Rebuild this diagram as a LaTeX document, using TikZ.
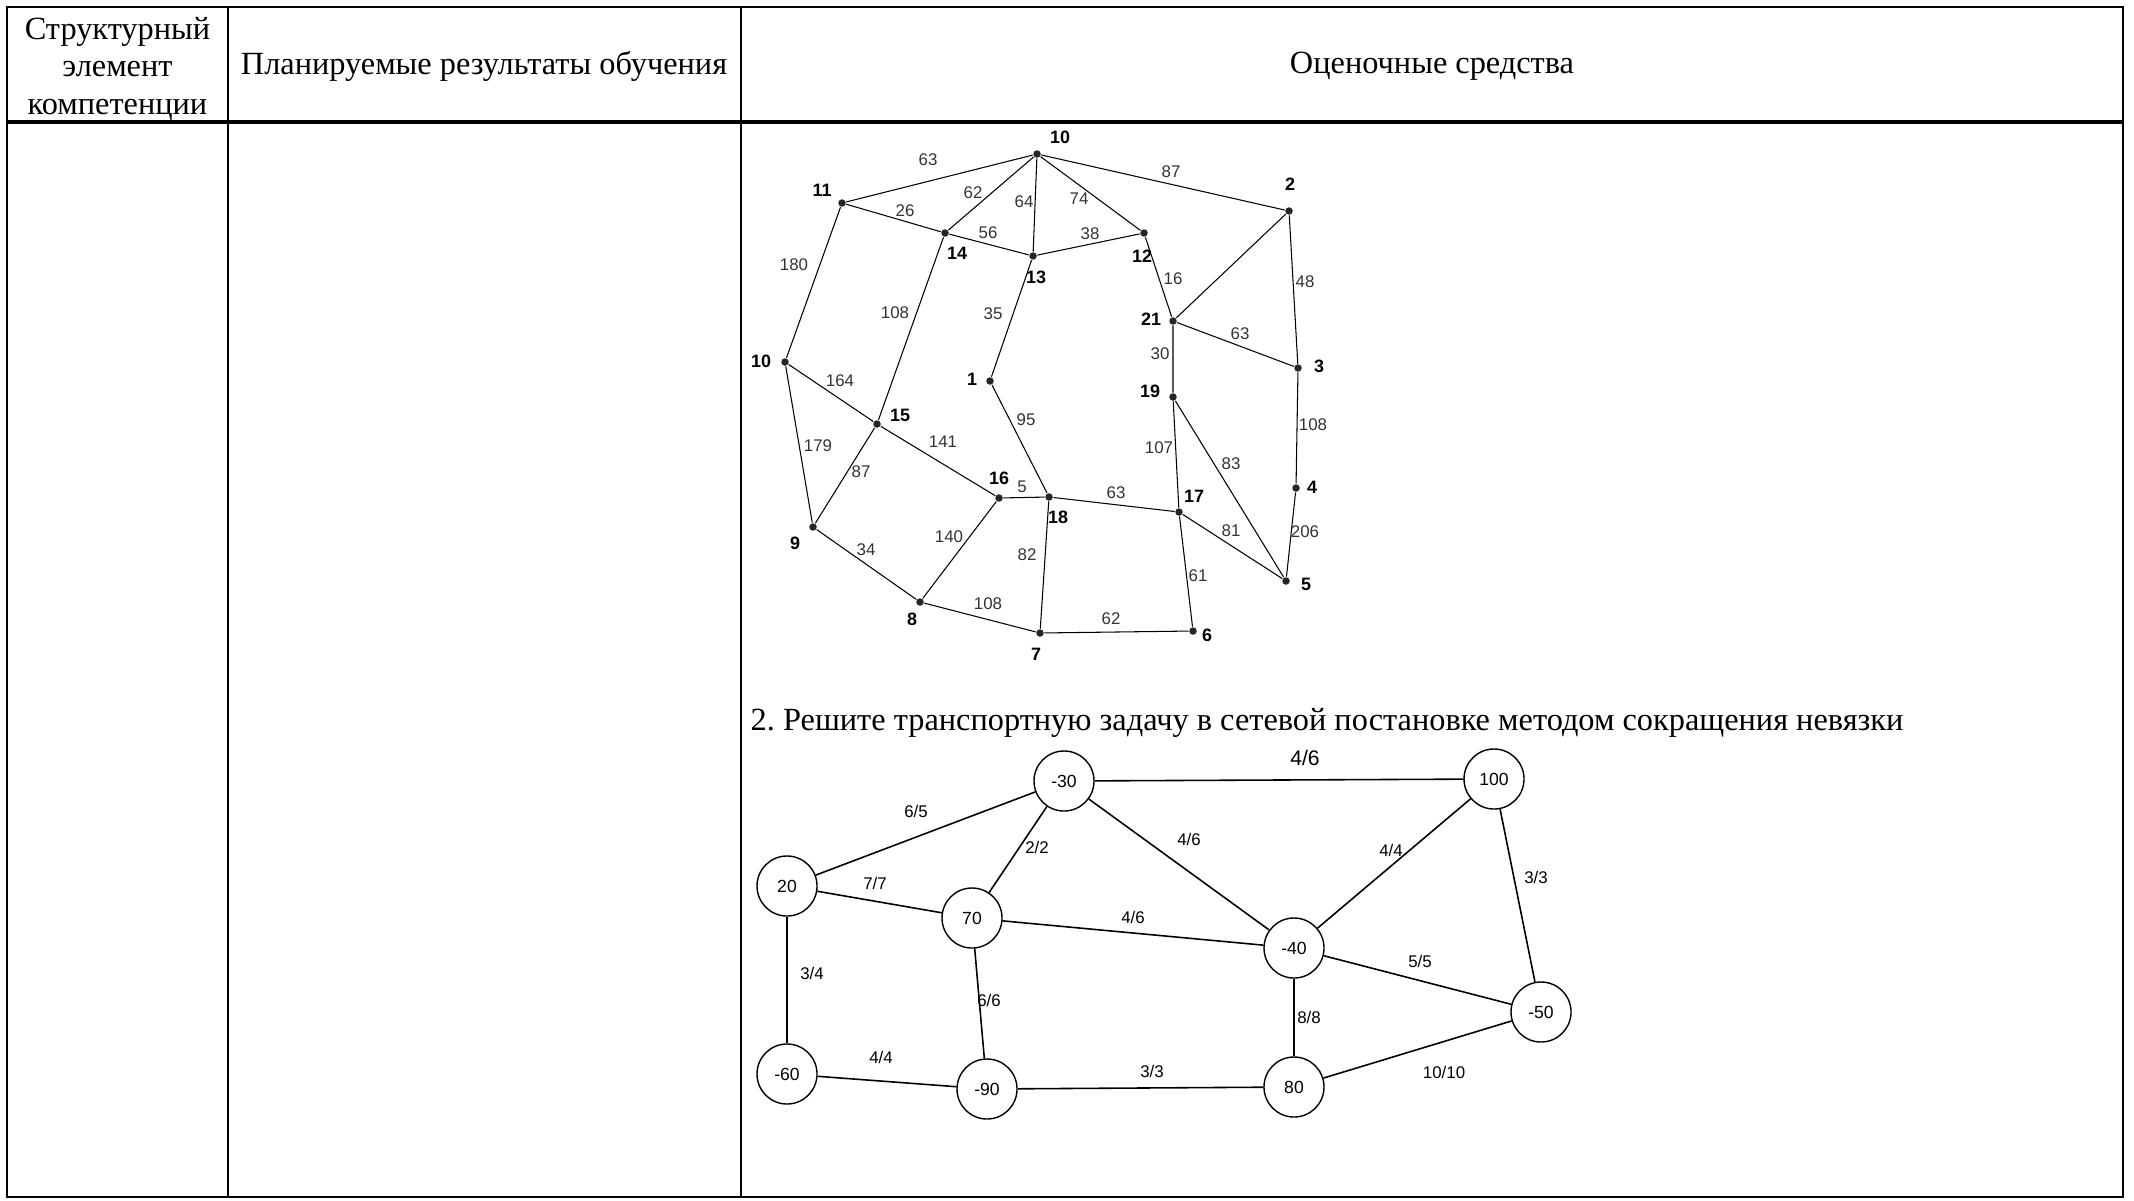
\documentclass[tikz,border=0pt]{standalone}
\usepackage{fontspec}
\usepackage{tikz}
\setmainfont{Liberation Serif}
\newfontfamily\arialfont{Liberation Sans}
\usetikzlibrary{positioning}
\tikzset{tabline/.style = {line width=0.8pt},
         hdr/.style = {font=\fontsize{9.2pt}{10.6pt}\selectfont, align=center},
         dotv/.style = {circle, fill=black!85, inner sep=0pt, minimum size=0.075cm},
         vlab/.style = {font=\arialfont\bfseries\fontsize{5.1pt}{5.5pt}\selectfont},
         elab/.style = {font=\arialfont\fontsize{4.8pt}{5.5pt}\selectfont, text=black!80},
         edg/.style = {line width=0.3pt},
         cnode/.style = {circle, draw, line width=0.4pt, minimum size=0.6cm, inner sep=0pt,
                         font=\arialfont\fontsize{5pt}{6pt}\selectfont},
         flab/.style = {font=\arialfont\fontsize{4.8pt}{6pt}\selectfont},
         fedg/.style = {line width=0.45pt}}

\begin{document}
\begin{tikzpicture}[x=0.01cm, y=-0.01cm]
      \useasboundingbox (0, 0) rectangle (2134, 1200);

      % table
      \draw [tabline] (7, 7) rectangle (2123, 1197);
      \draw [tabline] (228, 7) -- (228, 1197);
      \draw [tabline] (741, 7) -- (741, 1197);
      \draw [line width=1pt] (7, 122) -- (2123, 122);
      \node [hdr] (h1) at (117.5, 69) {Структурный\\элемент\\компетенции};
      \node [hdr] (h2) at (484, 66) {Планируемые результаты обучения};
      \node [hdr] (h3) at (1432, 66) {Оценочные средства};

      % first graph
      \node [dotv] (v10a) at (1037, 154) {};
      \node [dotv] (v11) at (842, 203) {};
      \node [dotv] (v14) at (945, 233) {};
      \node [dotv] (v13) at (1033, 256) {};
      \node [dotv] (v12) at (1144, 233) {};
      \node [dotv] (v2) at (1289, 211) {};
      \node [dotv] (v21) at (1173, 321) {};
      \node [dotv] (v3) at (1298, 368) {};
      \node [dotv] (v19) at (1173, 397) {};
      \node [dotv] (v10b) at (785, 362) {};
      \node [dotv] (v1) at (990, 381) {};
      \node [dotv] (v15) at (877, 424) {};
      \node [dotv] (v16) at (999, 498) {};
      \node [dotv] (v18) at (1049, 497) {};
      \node [dotv] (v17) at (1179, 512) {};
      \node [dotv] (v4) at (1296, 488) {};
      \node [dotv] (v9) at (813, 527) {};
      \node [dotv] (v5) at (1286, 581) {};
      \node [dotv] (v8) at (920, 602) {};
      \node [dotv] (v7) at (1040, 633) {};
      \node [dotv] (v6) at (1193, 631) {};

      \node [vlab] at (1060, 137) {10};
      \node [vlab] at (822, 190) {11};
      \node [vlab] at (957, 253) {14};
      \node [vlab] at (1036, 277) {13};
      \node [vlab] at (1142, 256) {12};
      \node [vlab] at (1290, 184) {2};
      \node [vlab] at (1151, 319) {21};
      \node [vlab] at (1319, 366) {3};
      \node [vlab] at (1150, 391) {19};
      \node [vlab] at (761, 361) {10};
      \node [vlab] at (972, 379) {1};
      \node [vlab] at (900, 415) {15};
      \node [vlab] at (999, 478) {16};
      \node [vlab] at (1058, 517) {18};
      \node [vlab] at (1194, 496) {17};
      \node [vlab] at (1312, 487) {4};
      \node [vlab] at (795, 543) {9};
      \node [vlab] at (1306, 584) {5};
      \node [vlab] at (912, 619) {8};
      \node [vlab] at (1036, 654) {7};
      \node [vlab] at (1207, 635) {6};

      \draw [edg] (v10a) -- (v11);
      \draw [edg] (v10a) -- (v14);
      \draw [edg] (v10a) -- (v13);
      \draw [edg] (v10a) -- (v12);
      \draw [edg] (v10a) -- (v2);
      \draw [edg] (v11) -- (v14) -- (v13) -- (v12) -- (v21);
      \draw [edg] (v11) -- (v10b);
      \draw [edg] (v2) -- (v21);
      \draw [edg] (v2) -- (v3) -- (v4) -- (v5);
      \draw [edg] (v21) -- (v3);
      \draw [edg] (v21) -- (v19) -- (v17);
      \draw [edg] (v14) -- (v15);
      \draw [edg] (v13) -- (v1) -- (v18);
      \draw [edg] (v10b) -- (v15) -- (v16);
      \draw [edg] (v10b) -- (v9);
      \draw [edg] (v15) -- (v9) -- (v8);
      \draw [edg] (v16) -- (v18) -- (v17);
      \draw [edg] (v19) -- (v5);
      \draw [edg] (v17) -- (v5);
      \draw [edg] (v17) -- (v6);
      \draw [edg] (v16) -- (v8);
      \draw [edg] (v18) -- (v7);
      \draw [edg] (v8) -- (v7) -- (v6);

      \node [elab] at (928, 160) {63};
      \node [elab] at (1171, 172) {87};
      \node [elab] at (973, 193) {62};
      \node [elab] at (1024, 202) {64};
      \node [elab] at (1079, 199) {74};
      \node [elab] at (905, 211) {26};
      \node [elab] at (988, 233) {56};
      \node [elab] at (1090, 234) {38};
      \node [elab] at (794, 265) {180};
      \node [elab] at (1173, 279) {16};
      \node [elab] at (1305, 282) {48};
      \node [elab] at (895, 313) {108};
      \node [elab] at (993, 314) {35};
      \node [elab] at (1240, 334) {63};
      \node [elab] at (1160, 354) {30};
      \node [elab] at (840, 381) {164};
      \node [elab] at (1026, 420) {95};
      \node [elab] at (1313, 425) {108};
      \node [elab] at (818, 446) {179};
      \node [elab] at (943, 442) {141};
      \node [elab] at (1159, 448) {107};
      \node [elab] at (1231, 464) {83};
      \node [elab] at (861, 472) {87};
      \node [elab] at (1022, 487) {5};
      \node [elab] at (1116, 493) {63};
      \node [elab] at (1231, 531) {81};
      \node [elab] at (1305, 532) {206};
      \node [elab] at (949, 537) {140};
      \node [elab] at (866, 550) {34};
      \node [elab] at (1027, 555) {82};
      \node [elab] at (1198, 576) {61};
      \node [elab] at (988, 604) {108};
      \node [elab] at (1111, 619) {62};

      % task 2
      \node [hdr, anchor=west, inner sep=0pt] (task) at (750, 723)
        {2.\ Решите транспортную задачу в сетевой постановке методом сокращения невязки};

      \node [cnode] (n30) at (1064, 781) {-30};
      \node [cnode] (n100) at (1494, 779) {100};
      \node [cnode] (n20) at (787, 886) {20};
      \node [cnode] (n70) at (972, 918) {70};
      \node [cnode] (n40) at (1294, 948) {-40};
      \node [cnode] (n50) at (1541, 1012) {-50};
      \node [cnode] (n60) at (787, 1074) {-60};
      \node [cnode] (n90) at (987, 1089) {-90};
      \node [cnode] (n80) at (1294, 1087) {80};

      \draw [fedg] (n30) -- (n100);
      \draw [fedg] (n20) -- (n30);
      \draw [fedg] (n70) -- (n30);
      \draw [fedg] (n30) -- (n40);
      \draw [fedg] (n40) -- (n100);
      \draw [fedg] (n100) -- (n50);
      \draw [fedg] (n20) -- (n70);
      \draw [fedg] (n70) -- (n40);
      \draw [fedg] (n40) -- (n50);
      \draw [fedg] (n20) -- (n60);
      \draw [fedg] (n70) -- (n90);
      \draw [fedg] (n40) -- (n80);
      \draw [fedg] (n60) -- (n90);
      \draw [fedg] (n90) -- (n80);
      \draw [fedg] (n80) -- (n50);

      \node [flab, font=\arialfont\fontsize{6pt}{7pt}\selectfont] at (1305, 758) {4/6};
      \node [flab] at (916, 811) {6/5};
      \node [flab] at (1037, 847) {2/2};
      \node [flab] at (1189, 839) {4/6};
      \node [flab] at (1391, 850) {4/4};
      \node [flab] at (1536, 877) {3/3};
      \node [flab] at (875, 883) {7/7};
      \node [flab] at (1133, 917) {4/6};
      \node [flab] at (1420, 961) {5/5};
      \node [flab] at (812, 973) {3/4};
      \node [flab] at (989, 1000) {6/6};
      \node [flab] at (1309, 1017) {8/8};
      \node [flab] at (881, 1057) {4/4};
      \node [flab] at (1152, 1071) {3/3};
      \node [flab] at (1444, 1072) {10/10};
    \end{tikzpicture}
\end{document}
